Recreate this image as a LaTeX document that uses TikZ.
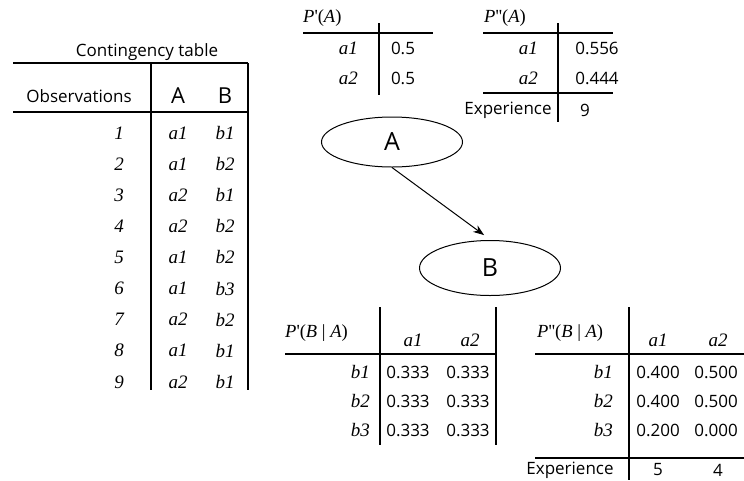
\documentclass[tikz,border=0pt]{standalone}
\usepackage{fontspec}
\setmainfont{Open Sans}
\newfontfamily\tms{Liberation Serif}
\usetikzlibrary{arrows.meta,shapes.geometric,positioning}

\begin{document}
\begin{tikzpicture}[x=1pt, y=-1pt,
  sans/.style={inner sep=0pt, font=\fontsize{17}{19}\selectfont},
  ital/.style={inner sep=0pt, font=\fontsize{19}{21}\selectfont\tms\itshape},
  lbl/.style={inner sep=0pt, anchor=west, font=\fontsize{18.5}{20}\selectfont\tms},
  big/.style={inner sep=0pt, font=\fontsize{22}{24}\selectfont},
  rule/.style={line width=1.5pt},
  bnode/.style={draw, ellipse, line width=1pt, minimum width=141pt, font=\fontsize{25}{27}\selectfont},
  arr/.style={-{Stealth[length=11pt,width=8pt]}, line width=1pt},
]
\useasboundingbox (0,0) rectangle (744,480);
% Contingency table
\node[sans] (ctitle) at (147,52) {Contingency table};
\draw[rule] (13,63) -- (248,63);
\draw[rule] (13,112) -- (248,112);
\draw[rule] (151,63) -- (151,390);
\draw[rule] (248,63) -- (248,390);
\node[sans] (cobs) at (79,96) {Observations};
\node[big] (chA) at (178,96) {A};
\node[big] (chB) at (225,96) {B};
\foreach \i/\a/\b in {1/a1/b1, 2/a1/b2, 3/a2/b1, 4/a2/b2, 5/a1/b2, 6/a1/b3, 7/a2/b2, 8/a1/b1, 9/a2/b1} {
  \pgfmathsetmacro\y{133+31.1*(\i-1)}
  \node[ital, anchor=east] (obs\i) at (124,\y) {\i};
  \node[ital] (ca\i) at (178,\y) {\a};
  \node[ital] (cb\i) at (225,\y) {\b};
}
% P'(A)
\node[lbl] (pa) at (303,18) {\textit{P}'(\textit{A})};
\draw[rule] (303,33) -- (433,33);
\draw[rule] (379,23) -- (379,95);
\foreach \r/\y in {a1/48, a2/78} {
  \node[ital, anchor=east] (pa\r) at (358,\y) {\r};
  \node[sans] (pav\r) at (403,\y) {0.5};
}
% P''(A)
\node[lbl] (ppa) at (484,18) {\textit{P}''(\textit{A})};
\draw[rule] (483,33) -- (613,33);
\draw[rule] (483,93) -- (613,93);
\draw[rule] (558,23) -- (558,122);
\foreach \r/\y/\v in {a1/48/0.556, a2/78/0.444} {
  \node[ital, anchor=east] (ppa\r) at (538,\y) {\r};
  \node[sans] (ppav\r) at (597,\y) {\v};
}
\node[sans] (ppaexp) at (508,110) {Experience};
\node[sans] (ppan) at (585,110) {9};
% Network
\node[bnode, minimum height=50pt] (A) at (392,142) {A};
\node[bnode, minimum height=55pt] (B) at (490,268) {B};
\draw[arr] (A.south) -- ([yshift=5pt]B.102);
% P'(B|A)
\node[lbl] (pba) at (285,333) {\textit{P}'(\textit{B} | \textit{A})};
\draw[rule] (285,354) -- (497,354);
\draw[rule] (380,307) -- (380,445);
\draw[rule] (496,307) -- (496,445);
\node[ital] (pbaa1) at (413,340) {a1};
\node[ital] (pbaa2) at (470,340) {a2};
\foreach \r/\y in {b1/372, b2/401, b3/430} {
  \node[ital, anchor=east] (pba\r) at (370,\y) {\r};
  \node[sans] (pbaa1\r) at (408,\y) {0.333};
  \node[sans] (pbaa2\r) at (468,\y) {0.333};
}
% P''(B|A)
\node[lbl] (ppba) at (537,333) {\textit{P}''(\textit{B} | \textit{A})};
\draw[rule] (535,354) -- (744,354);
\draw[rule] (535,458) -- (744,458);
\draw[rule] (629,307) -- (629,480);
\node[ital] (ppbaa1) at (658,340) {a1};
\node[ital] (ppbaa2) at (718,340) {a2};
\foreach \r/\y/\u/\v in {b1/372/0.400/0.500, b2/401/0.400/0.500, b3/430/0.200/0.000} {
  \node[ital, anchor=east] (ppba\r) at (613,\y) {\r};
  \node[sans] (ppbaa1\r) at (658,\y) {\u};
  \node[sans] (ppbaa2\r) at (716,\y) {\v};
}
\node[sans] (ppbaexp) at (570,470) {Experience};
\node[sans] (ppban1) at (658,470) {5};
\node[sans] (ppban2) at (718,470) {4};
\end{tikzpicture}
\end{document}
